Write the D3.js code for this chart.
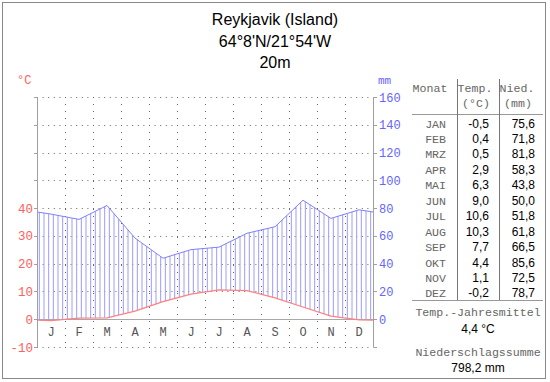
<!DOCTYPE html>
<html><head><meta charset="utf-8">
<script src="https://cdn.jsdelivr.net/npm/d3@7"></script>
<style>body{margin:0;background:#fff}svg{display:block}</style>
</head><body>
<svg id="chart" width="550" height="382"></svg>
<script>
const titleLines = ["Reykjavik (Island)", "64°8'N/21°54'W", "20m"];
const monthLetters = ["J","F","M","A","M","J","J","A","S","O","N","D"];
const tableMonths = ["JAN","FEB","MRZ","APR","MAI","JUN","JUL","AUG","SEP","OKT","NOV","DEZ"];
const temperature = [-0.5, 0.4, 0.5, 2.9, 6.3, 9.0, 10.6, 10.3, 7.7, 4.4, 1.1, -0.2];
const precipitation = [75.6, 71.8, 81.8, 58.3, 43.8, 50.0, 51.8, 61.8, 66.5, 85.6, 72.5, 78.7];
const tempTicks = [-10, 0, 10, 20, 30, 40];
const precipTicks = [0, 20, 40, 60, 80, 100, 120, 140, 160];
const gridLevels = [-10, 10, 20, 30, 40, 50, 60, 70, 80];

const svg = d3.select("#chart");
const mono = "'Liberation Mono', 'DejaVu Sans Mono', monospace";
const sans = "'Liberation Sans', Arial, sans-serif";
const RED = "#ff6060", BLUE = "#6464ff";

// frame
svg.append("rect").attr("x", 2.5).attr("y", 2.5).attr("width", 543).attr("height", 376)
  .attr("fill", "#fff").attr("stroke", "#888").attr("stroke-width", 1);

// titles
svg.selectAll("text.title").data(titleLines).join("text")
  .attr("x", 275).attr("y", (d, i) => 25 + i * 21.5)
  .attr("text-anchor", "middle").attr("font-family", sans).attr("font-size", 16)
  .attr("fill", "#000").text(d => d);

// scales
const x = d3.scaleLinear().domain([0, 12]).range([37, 373]);
const yT = d3.scaleLinear().domain([-10, 80]).range([347, 97]);
const yP = d3.scaleLinear().domain([0, 160]).range([319, 97]);
const px = v => Math.round(v) + 0.5;

// grid
const g = svg.append("g");
g.selectAll("line.h").data(gridLevels).join("line")
  .attr("x1", 37).attr("x2", 373)
  .attr("y1", d => px(yT(d))).attr("y2", d => px(yT(d)))
  .attr("stroke", "#666").attr("stroke-dasharray", "1,4.6");
g.selectAll("line.v").data(d3.range(1, 12)).join("line")
  .attr("x1", d => px(x(d))).attr("x2", d => px(x(d)))
  .attr("y1", 97).attr("y2", 347)
  .attr("stroke", "#666").attr("stroke-dasharray", "1,6");
// zero line
g.append("line").attr("x1", 37).attr("x2", 373).attr("y1", px(yT(0))).attr("y2", px(yT(0)))
  .attr("stroke", "#a8a8a8");

// extended series (wrap-around at edges)
const tEdge = (temperature[11] + temperature[0]) / 2;
const pEdge = (precipitation[11] + precipitation[0]) / 2;
const tPts = [[0, tEdge], ...temperature.map((v, i) => [i + 0.5, v]), [12, tEdge]];
const pPts = [[0, pEdge], ...precipitation.map((v, i) => [i + 0.5, v]), [12, pEdge]];
function interp(pts, m) {
  for (let i = 0; i < pts.length - 1; i++) {
    const [a, va] = pts[i], [b, vb] = pts[i + 1];
    if (m >= a && m <= b) return va + (vb - va) * (m - a) / (b - a);
  }
  return pts[pts.length - 1][1];
}

// hatching
const hatch = d3.range(72).map(i => (i + 0.5) / 6);
svg.append("g").selectAll("line").data(hatch).join("line")
  .attr("x1", d => x(d)).attr("x2", d => x(d))
  .attr("y1", d => yT(interp(tPts, d)))
  .attr("y2", d => yP(interp(pPts, d)))
  .attr("stroke", "#9c9cff").attr("stroke-width", 1)
  .attr("display", d => yP(interp(pPts, d)) < yT(interp(tPts, d)) ? null : "none");

// lines
svg.append("path").datum(pPts)
  .attr("d", d3.line().x(d => x(d[0])).y(d => yP(d[1])))
  .attr("fill", "none").attr("stroke", "#8080ff").attr("stroke-width", 1);
svg.append("path").datum(tPts)
  .attr("d", d3.line().x(d => x(d[0])).y(d => yT(d[1])))
  .attr("fill", "none").attr("stroke", "#ff8080").attr("stroke-width", 1.3);

// axes
const axisColor = "#a0a0a0";
svg.append("line").attr("x1", 37.5).attr("x2", 37.5).attr("y1", 97).attr("y2", 347.5).attr("stroke", axisColor);
svg.append("line").attr("x1", 373.5).attr("x2", 373.5).attr("y1", 97).attr("y2", 347.5).attr("stroke", axisColor);
svg.selectAll("line.lt").data(d3.range(-10, 90, 10)).join("line")
  .attr("x1", 34).attr("x2", 37.5).attr("y1", d => px(yT(d))).attr("y2", d => px(yT(d))).attr("stroke", axisColor);
svg.selectAll("line.rt").data(d3.range(-10, 90, 10)).join("line")
  .attr("x1", 373.5).attr("x2", 377).attr("y1", d => px(yT(d))).attr("y2", d => px(yT(d))).attr("stroke", axisColor);

svg.selectAll("text.tl").data(tempTicks).join("text")
  .attr("x", 33).attr("y", d => yT(d) + 4.5).attr("text-anchor", "end")
  .attr("font-family", mono).attr("font-size", 12.5).attr("fill", RED).text(d => String(d));
svg.selectAll("text.pl").data(precipTicks).join("text")
  .attr("x", 379).attr("y", d => yP(d) + 4.5).attr("text-anchor", "start")
  .attr("font-family", mono).attr("font-size", 12).attr("fill", BLUE).text(d => String(d));
svg.append("text").attr("x", 17).attr("y", 84).attr("font-family", mono).attr("font-size", 12)
  .attr("fill", RED).text("°C");
svg.append("text").attr("x", 378).attr("y", 84).attr("font-family", mono).attr("font-size", 11)
  .attr("fill", BLUE).text("mm");

svg.selectAll("text.ml").data(monthLetters).join("text")
  .attr("x", (d, i) => x(i + 0.5)).attr("y", 336).attr("text-anchor", "middle")
  .attr("font-family", mono).attr("font-size", 12).attr("fill", "#555").text(d => d);

// table
const fmt = v => d3.format(".1f")(v).replace(".", ",").replace("\u2212", "-");
const T = svg.append("g");
const tcol = "#666";
const mfs = 11.6;
T.append("text").attr("x", 430).attr("y", 92).attr("text-anchor", "middle").attr("font-family", mono)
  .attr("font-size", mfs).attr("fill", tcol).text("Monat");
T.append("text").attr("x", 475).attr("y", 92).attr("text-anchor", "middle").attr("font-family", mono)
  .attr("font-size", mfs).attr("fill", tcol).text("Temp.");
T.append("text").attr("x", 517).attr("y", 92).attr("text-anchor", "middle").attr("font-family", mono)
  .attr("font-size", mfs).attr("fill", tcol).text("Nied.");
T.append("text").attr("x", 476).attr("y", 107).attr("text-anchor", "middle").attr("font-family", mono)
  .attr("font-size", mfs).attr("fill", tcol).text("(°C)");
T.append("text").attr("x", 518).attr("y", 107).attr("text-anchor", "middle").attr("font-family", mono)
  .attr("font-size", mfs).attr("fill", tcol).text("(mm)");
T.append("line").attr("x1", 412).attr("x2", 543).attr("y1", 114.5).attr("y2", 114.5).attr("stroke", "#999");
T.append("line").attr("x1", 412).attr("x2", 543).attr("y1", 300.5).attr("y2", 300.5).attr("stroke", "#999");
T.append("line").attr("x1", 457.5).attr("x2", 457.5).attr("y1", 79).attr("y2", 300).attr("stroke", "#777");
T.append("line").attr("x1", 499.5).attr("x2", 499.5).attr("y1", 79).attr("y2", 300).attr("stroke", "#777");
const rowY = i => 127.5 + i * 15.45;
T.selectAll("text.tm").data(tableMonths).join("text")
  .attr("x", 446).attr("y", (d, i) => rowY(i)).attr("text-anchor", "end")
  .attr("font-family", mono).attr("font-size", mfs).attr("fill", tcol).text(d => d);
T.selectAll("text.tt").data(temperature).join("text")
  .attr("x", 489).attr("y", (d, i) => rowY(i)).attr("text-anchor", "end")
  .attr("font-family", sans).attr("font-size", 12).attr("fill", "#000").text(d => fmt(d));
T.selectAll("text.tp").data(precipitation).join("text")
  .attr("x", 535).attr("y", (d, i) => rowY(i)).attr("text-anchor", "end")
  .attr("font-family", sans).attr("font-size", 12).attr("fill", "#000").text(d => fmt(d));

const meanT = d3.mean(temperature), sumP = d3.sum(precipitation);
T.append("text").attr("x", 478).attr("y", 316).attr("text-anchor", "middle").attr("font-family", mono)
  .attr("font-size", mfs).attr("fill", tcol).text("Temp.-Jahresmittel");
T.append("text").attr("x", 478).attr("y", 333).attr("text-anchor", "middle").attr("font-family", sans)
  .attr("font-size", 12).attr("fill", "#000").text(fmt(meanT) + " °C");
T.append("text").attr("x", 478).attr("y", 356).attr("text-anchor", "middle").attr("font-family", mono)
  .attr("font-size", mfs).attr("fill", tcol).text("Niederschlagssumme");
T.append("text").attr("x", 478).attr("y", 372).attr("text-anchor", "middle").attr("font-family", sans)
  .attr("font-size", 12).attr("fill", "#000").text(fmt(sumP) + " mm");
</script>
</body></html>
